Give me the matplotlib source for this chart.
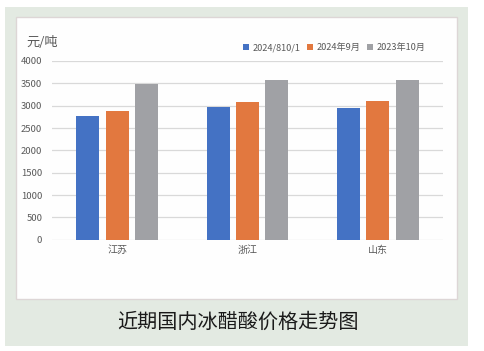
import matplotlib
matplotlib.use("Agg")
import matplotlib.pyplot as plt
from matplotlib.patches import Rectangle
import numpy as np

plt.rcParams['font.family'] = ['Noto Sans CJK SC', 'DejaVu Sans']

categories = ['江苏', '浙江', '山东']
series_names = ['2024/810/1', '2024年9月', '2023年10月']
s1 = [2760, 2960, 2940]
s2 = [2880, 3080, 3100]
s3 = [3480, 3580, 3580]
yticks = [0, 500, 1000, 1500, 2000, 2500, 3000, 3500, 4000]
colors = ['#4472C4', '#E2783F', '#A0A1A5']

W, H = 484, 351
fig = plt.figure(figsize=(W / 100, H / 100), dpi=100)
fig.patch.set_facecolor('white')

def px_rect(x0, y0, x1, y1, **kw):
    return Rectangle((x0 / W, 1 - y1 / H), (x1 - x0) / W, (y1 - y0) / H,
                     transform=fig.transFigure, **kw)

fig.patches.append(px_rect(5, 7, 468, 346, facecolor='#E3EAE2', edgecolor='none', zorder=0))
fig.patches.append(px_rect(16, 17, 457, 299, facecolor='#FEFEFE', edgecolor='#DDD6D6', linewidth=1.0, zorder=1))

ax = fig.add_axes([52 / W, 1 - 239.8 / H, (443 - 52) / W, (239.8 - 61) / H])
ax.set_facecolor('none')
ax.set_zorder(2)

x = np.arange(len(categories))
bw = 0.175
off = 0.225
for i, (vals, name) in enumerate(zip([s1, s2, s3], series_names)):
    ax.bar(x + (i - 1) * off, vals, width=bw, color=colors[i], label=name, zorder=3)

ax.set_xlim(-0.5, 2.5)
ax.set_ylim(0, 4000)
ax.set_yticks(yticks)
ax.set_yticklabels([str(v) for v in yticks], fontsize=6.8, color='#595959')
ax.set_xticks(x)
ax.set_xticklabels(categories, fontsize=7.2, color='#595959')
ax.tick_params(axis='both', length=0, pad=4)
ax.tick_params(axis='y', pad=7)
ax.grid(axis='y', color='#D9D9D9', linewidth=0.9, zorder=0)
for s in ax.spines.values():
    s.set_visible(False)

leg = ax.legend(loc='lower right', bbox_to_anchor=(425 / W, 1 - 52 / H), bbox_transform=fig.transFigure,
                ncol=3, frameon=False, fontsize=6.6, handlelength=0.7, handleheight=0.7,
                handletextpad=0.35, columnspacing=0.7, borderaxespad=0, borderpad=0)
for t in leg.get_texts():
    t.set_color('#595959')

fig.text(26 / W, 1 - 42 / H, '元/吨', fontsize=9.5, color='#595959', va='center', ha='left')

fig.text(238 / W, 1 - 322 / H, '近期国内冰醋酸价格走势图', fontsize=14.5, color='#1a1a1a',
         va='center', ha='center')

fig.savefig('out.png', dpi=100)
